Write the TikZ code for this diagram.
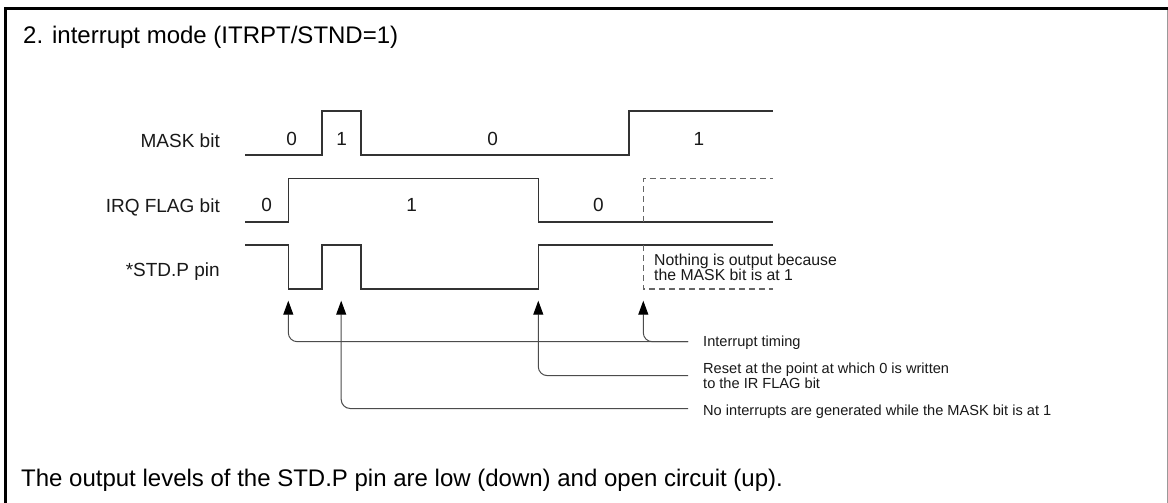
\documentclass[tikz,border=0pt]{standalone}
\usepackage{fontspec}
\setmainfont{Liberation Sans}
\usetikzlibrary{arrows.meta}
\begin{document}
\begin{tikzpicture}[x=1pt,y=-1pt,
  sig/.style={line width=1.6pt, draw=black!80, line join=miter},
  dsh/.style={line width=1.1pt, draw=black!60, dash pattern=on 6pt off 4pt},
  lbl/.style={font=\fontsize{19}{22}\selectfont, inner sep=0pt, text=black!90},
  ann/.style={font=\fontsize{14.6}{15.5}\selectfont, inner sep=0pt, align=left, text=black!90},
  ptr/.style={line width=1pt, draw=black!70, rounded corners=9pt, -{Triangle[length=14pt,width=10pt,color=black]}},
  ]
\useasboundingbox (0,0) rectangle (1168,503);
\fill[white] (0,0) rectangle (1168,503);
% frame
\draw[line width=3pt] (5,503) -- (5,9) -- (1168,9);
\draw[line width=1pt, black!40] (1167.3,10) -- (1167.3,503);

% title and note
\node[font=\fontsize{24}{28}\selectfont, anchor=base west, inner sep=0pt] (title) at (23,43.5) {2. interrupt mode (ITRPT/STND=1)};
\node[font=\fontsize{24}{28}\selectfont, anchor=base west, inner sep=0pt] (note) at (21,486.7) {The output levels of the STD.P pin are low (down) and open circuit (up).};

% signal names
\node[lbl, anchor=base east] (mask) at (220,147.3) {MASK bit};
\node[lbl, anchor=base east] (irq) at (220,212.3) {IRQ FLAG bit};
\node[lbl, anchor=base east] (std) at (220,276.5) {*STD.P pin};

% MASK bit
\draw[sig] (245,155) -- (321.7,155) -- (321.7,111) -- (360.7,111) -- (360.7,155) -- (629,155) -- (629,111) -- (772.5,111);
\node[lbl, anchor=base] (m0a) at (291.7,145) {0};
\node[lbl, anchor=base] (m1a) at (341.7,145) {1};
\node[lbl, anchor=base] (m0b) at (492.7,145) {0};
\node[lbl, anchor=base] (m1b) at (699,145) {1};

% IRQ FLAG bit
\draw[sig] (245,221.7) -- (288.3,221.7) -- (288.3,178.3) -- (538.3,178.3) -- (538.3,221.7) -- (772.5,221.7);
\draw[dsh] (643.3,221.7) -- (643.3,178.3) -- (772.5,178.3);
\node[lbl, anchor=base] (i0a) at (266.7,211.7) {0};
\node[lbl, anchor=base] (i1a) at (411.7,211.7) {1};
\node[lbl, anchor=base] (i0b) at (598.3,211.7) {0};

% STD.P pin
\draw[sig] (245,245) -- (288.3,245) -- (288.3,289) -- (321.7,289) -- (321.7,245) -- (360.7,245) -- (360.7,289) -- (538.3,289) -- (538.3,245) -- (772.5,245);
\draw[dsh] (643.3,245) -- (643.3,289) -- (772.5,289);
\node[font=\fontsize{15.8}{13}\selectfont, inner sep=0pt, align=left, anchor=north west, text=black!90] (nothing) at (654,253.5) {Nothing is output because\\the MASK bit is at 1};

% arrow tips
\coordinate (tA) at (288.3,300.7);
\coordinate (tB) at (341.2,300.7);
\coordinate (tC) at (538.3,300.7);
\coordinate (tD) at (643.3,300.7);

% annotations
\node[ann, anchor=base west] (int) at (703,346.7) {Interrupt timing};
\node[ann, anchor=north west] (rst) at (703,362.3) {Reset at the point at which 0 is written\\to the IR FLAG bit};
\node[ann, anchor=base west] (noint) at (703,415) {No interrupts are generated while the MASK bit is at 1};

\draw[ptr] ([shift={(-15,-5)}]int.base west) -| (tA);
\draw[ptr] ([shift={(-15,-5)}]int.base west) -| (tD);
\draw[ptr] ([xshift=-15pt]rst.west) -| (tC);
\draw[ptr] ([shift={(-15,-6.5)}]noint.base west) -| (tB);
\end{tikzpicture}
\end{document}
